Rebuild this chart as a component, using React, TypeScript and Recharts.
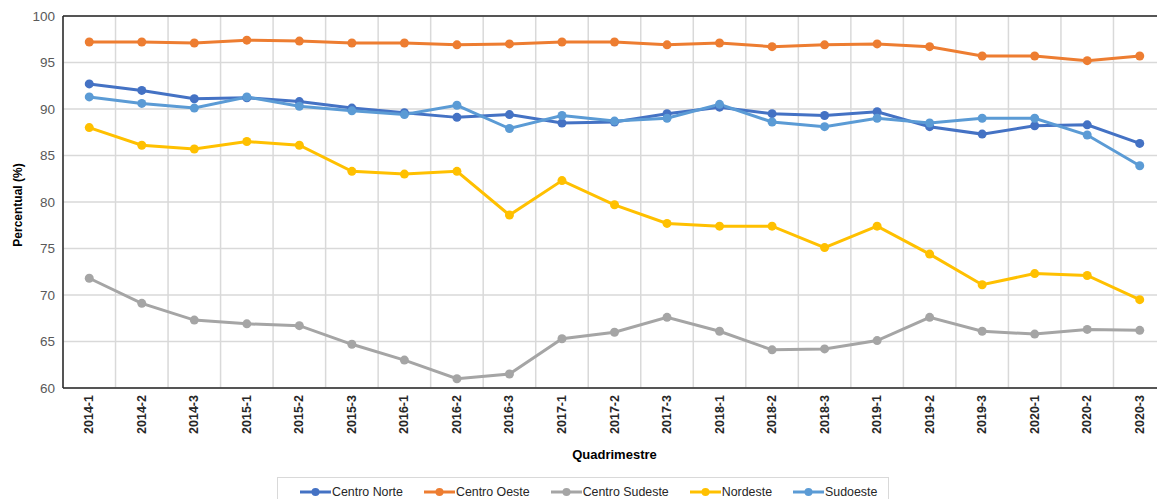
import { LineChart, Line, XAxis, YAxis, CartesianGrid, Legend, Label } from 'recharts';

const quadrimestres = [
  '2014-1', '2014-2', '2014-3', '2015-1', '2015-2', '2015-3', '2016-1', '2016-2', '2016-3',
  '2017-1', '2017-2', '2017-3', '2018-1', '2018-2', '2018-3', '2019-1', '2019-2', '2019-3',
  '2020-1', '2020-2', '2020-3',
];

const centroNorte = [92.7, 92.0, 91.1, 91.2, 90.8, 90.1, 89.6, 89.1, 89.4, 88.5, 88.6, 89.5, 90.2, 89.5, 89.3, 89.7, 88.1, 87.3, 88.2, 88.3, 86.3];
const centroOeste = [97.2, 97.2, 97.1, 97.4, 97.3, 97.1, 97.1, 96.9, 97.0, 97.2, 97.2, 96.9, 97.1, 96.7, 96.9, 97.0, 96.7, 95.7, 95.7, 95.2, 95.7];
const centroSudeste = [71.8, 69.1, 67.3, 66.9, 66.7, 64.7, 63.0, 61.0, 61.5, 65.3, 66.0, 67.6, 66.1, 64.1, 64.2, 65.1, 67.6, 66.1, 65.8, 66.3, 66.2];
const nordeste = [88.0, 86.1, 85.7, 86.5, 86.1, 83.3, 83.0, 83.3, 78.6, 82.3, 79.7, 77.7, 77.4, 77.4, 75.1, 77.4, 74.4, 71.1, 72.3, 72.1, 69.5];
const sudoeste = [91.3, 90.6, 90.1, 91.3, 90.3, 89.8, 89.4, 90.4, 87.9, 89.3, 88.7, 89.0, 90.5, 88.6, 88.1, 89.0, 88.5, 89.0, 89.0, 87.2, 83.9];

const yTicks = [60, 65, 70, 75, 80, 85, 90, 95, 100];

const series = [
  { key: 'cn', name: 'Centro Norte', color: '#4472C4', values: centroNorte },
  { key: 'co', name: 'Centro Oeste', color: '#ED7D31', values: centroOeste },
  { key: 'cs', name: 'Centro Sudeste', color: '#A5A5A5', values: centroSudeste },
  { key: 'ne', name: 'Nordeste', color: '#FFC000', values: nordeste },
  { key: 'so', name: 'Sudoeste', color: '#5B9BD5', values: sudoeste },
];

const data = quadrimestres.map((q, i) => {
  const row: Record<string, string | number> = { q };
  series.forEach((s) => {
    row[s.key] = s.values[i];
  });
  return row;
});

const FONT = '"Liberation Sans", Arial, sans-serif';

// rotated category label, reading bottom to top
const QuadTick = (props: any) => {
  const { x, y, payload } = props;
  return (
    <text
      x={x}
      y={y - 1}
      transform={`rotate(-90 ${x} ${y - 1})`}
      textAnchor="end"
      dominantBaseline="central"
      fontSize={12.5}
      fontWeight="bold"
      fill="#262626"
      fontFamily={FONT}
    >
      {payload.value}
    </text>
  );
};

const YTitle = (props: any) => {
  const { viewBox } = props;
  const cx = 18;
  const cy = viewBox.y + viewBox.height / 2 + 3;
  return (
    <text
      x={cx}
      y={cy}
      transform={`rotate(-90 ${cx} ${cy})`}
      textAnchor="middle"
      dominantBaseline="central"
      fontSize={12}
      fontWeight="bold"
      fill="#000"
      fontFamily={FONT}
    >
      Percentual (%)
    </text>
  );
};

const LegendBox = () => (
  <div
    style={{
      marginLeft: 277,
      width: 612,
      height: 22,
      boxSizing: 'border-box',
      borderTop: '1px solid #d9d9d9',
      borderLeft: '1px solid #d9d9d9',
      borderRight: '1px solid #d9d9d9',
      display: 'flex',
      alignItems: 'center',
      paddingLeft: 22,
      paddingTop: 6,
      fontFamily: FONT,
      fontSize: 12.4,
      color: '#262626',
      whiteSpace: 'nowrap',
    }}
  >
    {series.map((s) => (
      <div key={s.key} style={{ display: 'flex', alignItems: 'center', marginRight: 21, flexShrink: 0 }}>
        <svg width={31} height={10} style={{ flexShrink: 0 }}>
          <line x1={0} y1={5} x2={31} y2={5} stroke={s.color} strokeWidth={3} />
          <circle cx={15.5} cy={5} r={4} fill={s.color} />
        </svg>
        <span style={{ marginLeft: 1 }}>{s.name}</span>
      </div>
    ))}
  </div>
);

export default function App() {
  return (
    <div
      style={{
        position: 'absolute',
        left: 0,
        top: 0,
        width: 1157,
        height: 499,
        overflow: 'hidden',
        background: '#fff',
      }}
    >
      <LineChart
        width={1180}
        height={499}
        data={data}
        margin={{ top: 16, right: 14, bottom: 0, left: 0 }}
        style={{ fontFamily: FONT }}
      >
        <CartesianGrid
          stroke="#d9d9d9"
          strokeWidth={1.5}
          verticalCoordinatesGenerator={({ offset }: any) =>
            quadrimestres.map((_, i) => offset.left + (i * offset.width) / quadrimestres.length)
          }
        />
        {/* top border of the plot frame */}
        <CartesianGrid
          vertical={false}
          stroke="#262626"
          strokeWidth={1.5}
          horizontalCoordinatesGenerator={({ offset }: any) => [offset.top]}
        />
        <XAxis
          dataKey="q"
          scale="band"
          interval={0}
          height={89}
          tickLine={false}
          axisLine={{ stroke: '#262626', strokeWidth: 1.5 }}
          tick={<QuadTick />}
        >
          <Label
            value="Quadrimestre"
            position="insideBottom"
            offset={18}
            style={{ fontSize: 13, fontWeight: 'bold', fill: '#000', fontFamily: FONT }}
          />
        </XAxis>
        <YAxis
          domain={[60, 100]}
          ticks={yTicks}
          width={63}
          tickLine={false}
          axisLine={{ stroke: '#262626', strokeWidth: 1.5 }}
          tick={{ fontSize: 13.5, fill: '#595959', fontFamily: FONT }}
        >
          <Label content={<YTitle />} />
        </YAxis>
        <Legend verticalAlign="bottom" content={<LegendBox />} />
        {series.map((s) => (
          <Line
            key={s.key}
            dataKey={s.key}
            name={s.name}
            stroke={s.color}
            strokeWidth={3}
            dot={{ r: 4.5, fill: s.color, stroke: s.color, strokeWidth: 0 }}
            isAnimationActive={false}
          />
        ))}
      </LineChart>
    </div>
  );
}
